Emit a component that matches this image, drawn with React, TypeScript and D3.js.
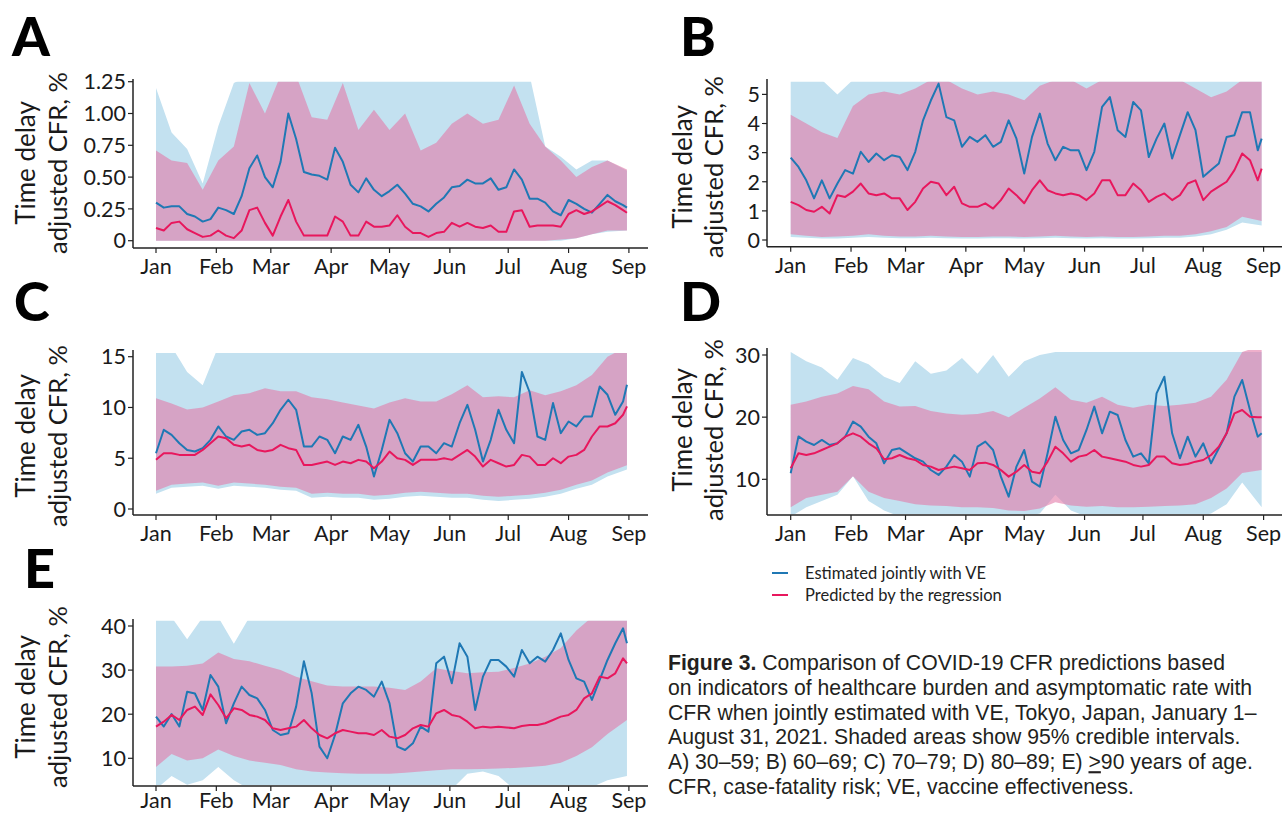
import React from "react";
import * as d3 from "d3";

// ---------- categories ----------
const monthLabels = ["Jan", "Feb", "Mar", "Apr", "May", "Jun", "Jul", "Aug", "Sep"];
// day offsets from 2021-01-01
const lineDays = [0,4,8,12,16,20,24,28,32,36,40,44,48,52,56,60,64,68,72,76,80,84,88,92,96,100,104,108,112,116,120,124,128,132,136,140,144,148,152,156,160,164,168,172,176,180,184,188,192,196,200,204,208,212,216,220,224,228,232,236,240,242];
const bandDays = [0,8,16,24,32,40,48,56,64,72,80,88,96,104,112,120,128,136,144,152,160,168,176,184,192,200,208,216,224,232,242];

// ---------- Panel A (30–59) ----------
const aEst = [0.30,0.26,0.27,0.27,0.21,0.19,0.15,0.17,0.26,0.24, 0.21,0.35,0.57,0.67,0.50,0.42,0.62,1.00,0.80,0.54, 0.52,0.51,0.48,0.73,0.62,0.44,0.38,0.49,0.40,0.35, 0.39,0.44,0.37,0.29,0.27,0.23,0.29,0.34,0.42,0.43, 0.48,0.45,0.45,0.49,0.40,0.42,0.56,0.48,0.33,0.33, 0.30,0.23,0.20,0.32,0.29,0.25,0.22,0.29,0.36,0.31, 0.28,0.26];
const aPred = [0.10,0.08,0.14,0.15,0.09,0.06,0.03,0.04,0.08,0.04, 0.02,0.08,0.24,0.26,0.14,0.04,0.19,0.32,0.15,0.04, 0.04,0.04,0.04,0.19,0.15,0.04,0.04,0.15,0.11,0.11, 0.12,0.20,0.11,0.06,0.06,0.03,0.06,0.07,0.14,0.11, 0.14,0.11,0.10,0.12,0.07,0.07,0.23,0.24,0.11,0.12, 0.12,0.12,0.11,0.21,0.24,0.21,0.23,0.27,0.31,0.28, 0.24,0.22];
const aEstHi = [1.20,0.85,0.72,0.45,0.90,1.24,1.3,1.3,1.3,1.3, 1.3,1.3,1.3,1.3,1.3,1.3,1.3,1.3,1.3,1.3, 1.3,1.3,1.3,1.3,1.3,0.74,0.66,0.56,0.63,0.63,0.55];
const aEstLo = [0,0,0,0,0,0,0,0,0,0, 0,0,0,0,0,0,0,0,0,0, 0,0,0,0,0,0,0,0.02,0.05,0.07,0.08];
const aPredHi = [0.71,0.63,0.61,0.40,0.63,0.74,1.24,1.00,1.3,1.3, 0.97,0.95,1.24,0.87,1.03,0.87,1.00,0.71,0.77,0.92, 1.00,0.92,0.95,1.22,0.92,0.74,0.63,0.50,0.58,0.63,0.56];
const aPredLo = [0,0,0,0,0,0,0,0,0,0, 0,0,0,0,0,0,0,0,0,0, 0,0,0,0,0,0,0.01,0.02,0.05,0.08,0.08];
const aTicks = [0, 0.25, 0.5, 0.75, 1, 1.25];
const aTickLabels = ["0", "0.25", "0.50", "0.75", "1.00", "1.25"];

// ---------- Panel B (60–69) ----------
const bEst = [2.83,2.51,2.05,1.43,2.05,1.43,1.94,2.40,2.28,3.03, 2.68,2.97,2.74,2.91,2.85,2.40,3.03,4.11,4.79,5.37, 4.22,4.11,3.20,3.54,3.37,3.60,3.20,3.37,4.11,3.48, 2.28,3.54,4.34,3.31,2.74,3.20,3.08,3.08,2.40,3.03, 4.57,4.91,3.77,3.54,4.74,4.45,2.85,3.48,4.00,2.80, 3.60,4.39,3.77,2.17,2.40,2.63,3.54,3.60,4.39,4.39, 3.08,3.48];
const bPred = [1.31,1.20,1.03,0.97,1.14,0.91,1.54,1.48,1.66,1.94, 1.60,1.54,1.60,1.43,1.43,1.03,1.31,1.77,2.00,1.94, 1.54,1.83,1.26,1.14,1.14,1.26,1.08,1.37,1.77,1.54, 1.26,1.71,2.05,1.71,1.60,1.54,1.60,1.54,1.37,1.60, 2.05,2.05,1.54,1.54,1.94,1.71,1.31,1.48,1.60,1.37, 1.54,1.94,2.05,1.37,1.66,1.83,2.00,2.40,2.97,2.74, 2.05,2.45];
const bEstHi = [5.5,5.5,5.5,5.0,5.5,5.5,5.5,5.5,5.5,5.5, 5.5,5.5,5.5,5.5,5.5,5.5,5.5,5.5,5.5,5.5, 5.5,5.5,5.5,5.5,5.5,5.5,5.5,5.5,5.5,5.5,5.5];
const bEstLo = [0.10,0.08,0.05,0.05,0.08,0.10,0.08,0.06,0.06,0.08, 0.06,0.05,0.05,0.06,0.06,0.05,0.06,0.08,0.06,0.05, 0.06,0.05,0.05,0.06,0.08,0.08,0.12,0.20,0.35,0.60,0.50];
const bPredHi = [4.3,4.0,3.7,3.5,4.6,5.0,5.1,5.0,5.2,5.5, 5.5,5.2,5.0,5.1,5.0,4.8,5.3,5.5,5.5,5.2, 5.5,5.5,5.5,5.5,5.5,5.5,5.2,4.9,5.1,5.5,5.5];
const bPredLo = [0.20,0.15,0.10,0.12,0.15,0.20,0.15,0.12,0.12,0.15, 0.12,0.10,0.10,0.12,0.12,0.10,0.12,0.15,0.12,0.10, 0.12,0.10,0.10,0.12,0.15,0.15,0.20,0.30,0.45,0.80,0.65];
const bTicks = [0, 1, 2, 3, 4, 5];
const bTickLabels = ["0", "1", "2", "3", "4", "5"];

// ---------- Panel C (70–79) ----------
const cEst = [5.49,7.80,7.30,6.48,5.82,5.66,5.99,6.81,8.13,7.14, 6.81,7.63,7.80,7.30,7.47,8.45,9.77,10.76,9.77,6.15, 6.15,7.14,6.81,5.49,7.14,6.81,8.29,6.15,3.20,5.82, 8.78,7.47,5.49,4.67,6.15,6.15,5.49,6.48,6.15,8.45, 10.26,7.80,4.67,6.81,9.77,7.80,6.48,13.50,11.50,7.14, 6.81,10.43,7.47,8.62,8.13,9.11,9.11,12.07,11.25,9.28, 10.59,12.24];
const cPred = [4.84,5.49,5.49,5.33,5.33,5.33,5.82,6.48,7.14,6.97, 6.32,6.15,6.32,5.82,5.66,5.82,6.32,5.99,5.82,4.34, 4.34,4.51,4.67,4.34,4.67,4.51,4.84,4.67,4.01,4.67, 5.66,5.00,4.84,4.34,4.84,4.84,4.84,5.00,4.84,5.33, 5.82,5.16,4.18,4.84,4.51,4.18,4.34,5.33,5.16,4.34, 4.34,5.00,4.51,5.16,5.33,5.82,7.14,8.13,8.13,8.45, 9.28,10.10];
const cEstHi = [16,16,13.5,12.2,16,16,16,16,16,16, 16,16,16,16,16,16,16,16,16,16, 16,16,16,16,16,16,16,16,16,16,16];
const cEstLo = [1.5,2.1,2.2,2.3,2.0,2.3,2.2,2.1,1.9,1.8, 1.1,1.2,1.1,1.1,0.9,1.0,1.2,1.3,1.2,1.1, 1.1,0.9,0.8,0.9,1.0,1.2,1.5,2.0,2.4,3.2,3.9];
const cPredHi = [10.9,10.4,9.8,10.0,10.6,11.2,11.4,11.9,11.6,11.6, 11.0,10.8,10.5,10.2,9.9,10.5,10.9,10.6,10.6,11.3, 12.2,11.0,11.1,11.0,11.7,11.2,11.6,12.2,13.2,15.0,16];
const cPredLo = [1.8,2.4,2.5,2.6,2.3,2.6,2.5,2.4,2.2,2.1, 1.5,1.6,1.5,1.5,1.3,1.4,1.6,1.7,1.6,1.5, 1.5,1.3,1.2,1.3,1.4,1.6,1.9,2.4,2.8,3.6,4.3];
const cTicks = [0, 5, 10, 15];
const cTickLabels = ["0", "5", "10", "15"];

// ---------- Panel D (80–89) ----------
const dEst = [10.97,16.90,16.06,15.52,16.33,15.52,15.79,16.86,19.28,18.47, 16.86,15.79,12.57,14.72,14.99,14.18,13.38,12.84,11.50,10.70, 12.04,13.91,12.84,10.43,15.25,16.06,14.72,10.43,7.21,12.04, 14.72,9.62,8.82,14.18,20.08,16.33,14.18,14.72,17.94,21.69, 17.40,20.88,20.35,16.33,13.65,14.18,12.57,23.83,26.50,17.40, 13.38,16.86,13.65,15.79,12.57,14.99,17.40,23.30,25.98,21.15, 16.86,17.40];
const dPred = [11.77,14.18,13.91,14.18,14.72,15.25,15.79,16.86,17.40,16.86, 15.79,14.99,13.22,13.38,13.91,13.38,13.11,12.31,12.04,11.50, 11.77,12.04,11.77,11.50,12.57,12.68,12.31,11.50,10.43,11.23, 12.31,11.23,10.97,12.84,15.25,14.18,12.84,13.65,13.91,14.72, 13.65,13.38,13.11,12.84,12.31,12.04,12.31,13.65,13.65,12.57, 12.31,12.47,12.84,13.11,13.91,15.25,17.40,20.62,21.15,20.08, 19.97,19.97];
const dEstHi = [30.5,29.0,28.0,26.0,29.5,28.5,26.5,25.5,29.0,27.0, 27.5,29.5,27.0,30.0,26.5,29.0,30.0,30.5,30.5,30.5, 30.5,30.5,30.5,30.5,30.5,30.5,30.5,30.5,30.5,30.5,30.5];
const dEstLo = [4.0,5.5,6.5,7.5,10.5,6.5,5.0,4.0,4.0,4.0, 4.0,4.0,4.0,4.0,4.0,4.0,4.5,7.5,5.0,4.0, 4.0,4.0,4.0,4.0,4.0,4.0,4.0,4.5,6.0,9.5,5.5];
const dPredHi = [22.0,22.5,23.3,23.8,25.0,24.5,22.5,21.7,21.8,21.0, 20.6,20.4,20.5,21.0,20.0,21.5,23.0,24.8,22.8,22.3, 23.3,22.0,21.5,22.0,21.8,22.0,22.3,23.3,26.0,30.5,31.5];
const dPredLo = [5.5,7.0,7.5,8.0,10.5,8.0,7.0,6.5,6.0,5.8, 5.7,5.5,5.5,5.4,5.0,4.9,5.3,6.3,5.8,5.6, 5.7,5.5,5.5,5.6,5.7,5.8,6.0,7.0,8.5,11.0,11.5];
const dTicks = [10, 20, 30];
const dTickLabels = ["10", "20", "30"];

// ---------- Panel E (>=90) ----------
const eEst = [19.45,17.20,20.05,17.20,25.10,24.70,20.96,28.90,26.25,17.94, 22.47,26.25,24.36,23.60,20.96,16.42,15.29,15.67,21.72,32.00, 24.74,12.65,10.00,15.29,22.47,24.74,26.25,25.50,23.98,27.38, 22.47,12.65,11.89,13.40,17.18,16.05,31.54,33.05,27.00,36.08, 33.05,20.96,28.52,32.30,32.30,30.79,28.52,34.56,31.54,33.05, 31.92,34.56,38.34,32.30,28.14,27.38,23.23,27.76,32.30,36.08, 39.48,36.08];
const ePred = [17.18,18.31,19.83,18.69,20.96,21.72,19.83,24.50,22.09,19.07, 21.34,20.96,19.83,19.45,18.69,16.80,16.42,16.80,17.18,18.69, 16.80,15.29,14.53,15.67,16.42,16.05,15.67,15.67,15.29,16.42, 14.91,14.53,15.29,16.80,17.56,17.18,20.20,20.96,19.83,19.45, 18.31,16.80,17.18,17.00,17.18,17.00,16.80,17.33,17.56,17.56, 17.94,18.69,19.45,19.83,20.96,23.60,24.74,28.52,28.14,29.27, 32.68,31.54];
const eEstHi = [42,42,37,42,42,36,42,42,42,42, 42,42,42,42,42,42,42,42,42,42, 42,42,42,42,42,42,42,42,42,42,42];
const eEstLo = [3.0,6.0,4.0,5.0,8.0,5.0,3.0,3.0,3.0,3.0, 3.0,3.0,3.0,3.0,3.0,3.0,3.0,3.0,3.0,3.0, 6.5,7.0,6.0,3.0,3.0,3.0,3.0,3.0,3.5,5.0,6.0];
const ePredHi = [30.8,30.8,31.0,31.5,34.0,32.5,32.0,31.0,30.0,28.5, 27.5,26.5,26.3,26.3,26.3,26.0,25.5,27.4,30.4,29.8, 29.3,29.5,29.6,30.5,31.5,33.0,35.0,39.0,42,42,42];
const ePredLo = [8.0,11.0,9.5,10.0,12.0,10.5,9.5,9.0,8.5,7.5, 7.0,6.8,6.6,6.5,6.5,6.5,6.7,7.0,7.3,7.5, 7.5,7.6,7.7,7.8,8.0,8.3,9.0,10.5,12.5,15.5,18.7];
const eTicks = [10, 20, 30, 40];
const eTickLabels = ["10", "20", "30", "40"];

// ---------- legend & caption ----------
const legendLabels = ["Estimated jointly with VE", "Predicted by the regression"];
const captionLines = [
  "Comparison of COVID-19 CFR predictions based",
  "on indicators of healthcare burden and asymptomatic rate with",
  "CFR when jointly estimated with VE, Tokyo, Japan, January 1–",
  "August 31, 2021. Shaded areas show 95% credible intervals.",
  "A) 30–59; B) 60–69; C) 70–79; D) 80–89; E) ",
  "CFR, case-fatality risk; VE, vaccine effectiveness.",
];

const BLUE = "#1f78b4";
const RED = "#e8175d";
const BLUE_BAND = "#c3e1f0";
const PINK_BAND = "#e27aa8";
const FONT = "Lato, 'Open Sans', sans-serif";

const START = new Date(2021, 0, 1);
const END = new Date(2021, 8, 1);
const dayDate = (d: number) => d3.timeDay.offset(START, d);
const monthDates = monthLabels.map((_, i) => new Date(2021, i, 1));

type Layout = {
  axisX: number; x0: number; x1: number; xEnd: number;
  yVal: [number, number]; yPx: [number, number];
  axisY: number; clipTop: number; yTop: number; labelDy: number;
  letterX: number; letterY: number; titleCy: number; t1: number; t2: number;
};

const L = {
  A: { axisX: 133, x0: 156, x1: 628.9, xEnd: 648, yVal: [0, 1.25], yPx: [240.7, 81.7], axisY: 248, clipTop: 81.7, yTop: 79, labelDy: 26, letterX: 12, letterY: 56, titleCy: 163, t1: 35, t2: 67 },
  B: { axisX: 767, x0: 790.7, x1: 1263.6, xEnd: 1282, yVal: [0, 5], yPx: [240, 94.4], axisY: 246.7, clipTop: 81.7, yTop: 79, labelDy: 26, letterX: 680, letterY: 56, titleCy: 167, t1: 692, t2: 723 },
  C: { axisX: 133, x0: 156, x1: 628.9, xEnd: 648, yVal: [0, 15], yPx: [509, 356.7], axisY: 515, clipTop: 353, yTop: 350, labelDy: 26, letterX: 14, letterY: 321, titleCy: 436, t1: 35, t2: 67 },
  D: { axisX: 767, x0: 790.7, x1: 1263.6, xEnd: 1282, yVal: [10, 30], yPx: [479.3, 355], axisY: 515, clipTop: 350, yTop: 348, labelDy: 26, letterX: 680, letterY: 321, titleCy: 430, t1: 692, t2: 723 },
  E: { axisX: 133, x0: 156, x1: 628.9, xEnd: 648, yVal: [10, 40], yPx: [758.3, 626], axisY: 786, clipTop: 620.7, yTop: 619, labelDy: 22, letterX: 24, letterY: 588, titleCy: 697, t1: 35, t2: 67 },
} as Record<string, Layout>;

const panels = [
  { id: "A", est: aEst, pred: aPred, estHi: aEstHi, estLo: aEstLo, predHi: aPredHi, predLo: aPredLo, ticks: aTicks, labels: aTickLabels },
  { id: "B", est: bEst, pred: bPred, estHi: bEstHi, estLo: bEstLo, predHi: bPredHi, predLo: bPredLo, ticks: bTicks, labels: bTickLabels },
  { id: "C", est: cEst, pred: cPred, estHi: cEstHi, estLo: cEstLo, predHi: cPredHi, predLo: cPredLo, ticks: cTicks, labels: cTickLabels },
  { id: "D", est: dEst, pred: dPred, estHi: dEstHi, estLo: dEstLo, predHi: dPredHi, predLo: dPredLo, ticks: dTicks, labels: dTickLabels },
  { id: "E", est: eEst, pred: ePred, estHi: eEstHi, estLo: eEstLo, predHi: ePredHi, predLo: ePredLo, ticks: eTicks, labels: eTickLabels },
];

function Panel({ p }: { p: typeof panels[number] }) {
  const l = L[p.id];
  const x = d3.scaleTime().domain([START, END]).range([l.x0, l.x1]);
  const y = d3.scaleLinear().domain(l.yVal).range(l.yPx);
  const band = (lo: number[], hi: number[]) =>
    d3.area<number>()
      .x((d) => x(dayDate(d)))
      .y0((_, i) => y(lo[i]))
      .y1((_, i) => y(hi[i]))(bandDays) || "";
  const line = (vals: number[]) =>
    d3.line<number>()
      .x((d) => x(dayDate(d)))
      .y((_, i) => y(vals[i]))(lineDays) || "";
  const clipId = `clip-${p.id}`;
  return (
    <g>
      <defs>
        <clipPath id={clipId}>
          <rect x={l.axisX + 1} y={l.clipTop} width={l.xEnd - l.axisX} height={l.axisY - l.clipTop - 1} />
        </clipPath>
      </defs>
      <g clipPath={`url(#${clipId})`}>
        <path d={band(p.estLo, p.estHi)} fill={BLUE_BAND} />
        <path d={band(p.predLo, p.predHi)} fill={PINK_BAND} fillOpacity={0.6} />
        <path d={line(p.est)} fill="none" stroke={BLUE} strokeWidth={2} strokeLinejoin="round" />
        <path d={line(p.pred)} fill="none" stroke={RED} strokeWidth={2} strokeLinejoin="round" />
      </g>
      {/* axes */}
      <line x1={l.axisX} x2={l.axisX} y1={l.yTop} y2={l.axisY} stroke="#222" strokeWidth={1.5} />
      <line x1={l.axisX} x2={l.xEnd} y1={l.axisY} y2={l.axisY} stroke="#222" strokeWidth={1.5} />
      {p.ticks.map((t, i) => (
        <g key={t}>
          <line x1={l.axisX - 5} x2={l.axisX} y1={y(t)} y2={y(t)} stroke="#222" strokeWidth={1.2} />
          <text x={l.axisX - 7} y={y(t)} dy="0.36em" textAnchor="end" fontSize={21.5} fontFamily={FONT} fill="#1a1a1a">
            {p.labels[i]}
          </text>
        </g>
      ))}
      {monthDates.map((m, i) => (
        <g key={i}>
          <line x1={x(m)} x2={x(m)} y1={l.axisY} y2={l.axisY + 5} stroke="#222" strokeWidth={1.2} />
          <text x={x(m)} y={l.axisY + l.labelDy} textAnchor="middle" fontSize={21.5} fontFamily={FONT} fill="#1a1a1a">
            {monthLabels[i]}
          </text>
        </g>
      ))}
      <text transform={`translate(${l.t1},${l.titleCy}) rotate(-90)`} textAnchor="middle" fontSize={26} fontFamily={FONT} fill="#1a1a1a">Time delay</text>
      <text transform={`translate(${l.t2},${l.titleCy}) rotate(-90)`} textAnchor="middle" fontSize={25.5} fontFamily={FONT} fill="#1a1a1a">adjusted CFR, %</text>
      <text x={l.letterX} y={l.letterY} fontSize={54} fontWeight={900} fontFamily={FONT} fill="#000">{p.id}</text>
    </g>
  );
}

export default function App() {
  const capX = 668;
  const capY0 = 670;
  const capDy = 24.8;
  return (
    <svg width={1286} height={816} style={{ position: "absolute", left: 0, top: 0, background: "#fff" }}>
      <rect x={0} y={0} width={1286} height={816} fill="#fff" />
      {panels.map((p) => <Panel key={p.id} p={p} />)}
      {/* legend */}
      {legendLabels.map((lab, i) => (
        <g key={lab}>
          <line x1={772} x2={788} y1={573 + i * 22} y2={573 + i * 22} stroke={i === 0 ? BLUE : RED} strokeWidth={2} />
          <text x={805} y={573 + i * 22} dy="0.35em" fontSize={16.5} fontFamily={FONT} fill="#222">{lab}</text>
        </g>
      ))}
      {/* caption */}
      <g fontFamily="'Liberation Sans', Arial, sans-serif" fontSize={21.2} fill="#231f20">
        <text x={capX} y={capY0}>
          <tspan fontWeight={700}>Figure 3.</tspan>
          <tspan> {captionLines[0]}</tspan>
        </text>
        {captionLines.slice(1).map((ln, i) => (
          <text key={i} x={capX} y={capY0 + (i + 1) * capDy}>
            {ln}
            {i === 3 ? (
              <>
                <tspan textDecoration="underline">&gt;</tspan>
                <tspan>90 years of age.</tspan>
              </>
            ) : null}
          </text>
        ))}
      </g>
    </svg>
  );
}
